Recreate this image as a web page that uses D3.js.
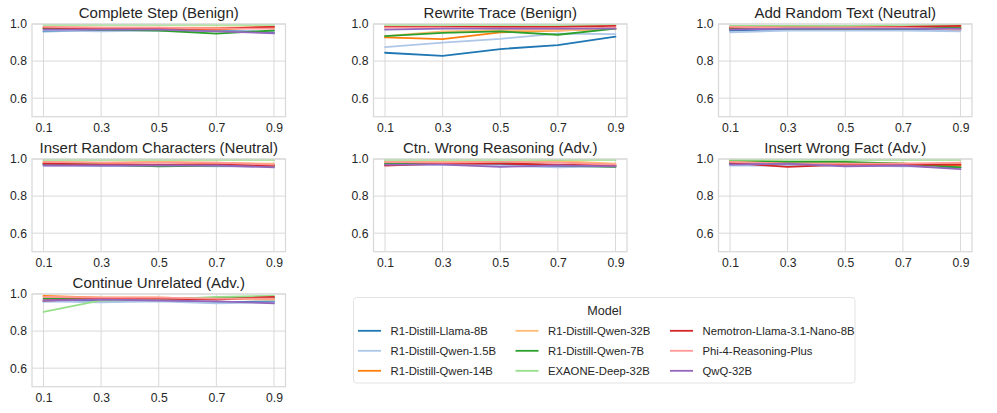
<!DOCTYPE html>
<html>
<head>
<meta charset="utf-8">
<script src="https://cdn.jsdelivr.net/npm/d3@7"></script>
<style>
  html, body { margin: 0; padding: 0; background: #ffffff; }
  svg { display: block; font-family: "Liberation Sans", Arial, sans-serif; }
</style>
</head>
<body>
<svg id="chart" width="997" height="413"></svg>
<script>
// ---- data ----
const xValues = [0.1, 0.3, 0.5, 0.7, 0.9];
const xTickLabels = ["0.1", "0.3", "0.5", "0.7", "0.9"];
const yTicks = [0.6, 0.8, 1.0];
const yTickLabels = ["0.6", "0.8", "1.0"];

const models = [
  "R1-Distill-Llama-8B", "R1-Distill-Qwen-1.5B", "R1-Distill-Qwen-14B",
  "R1-Distill-Qwen-32B", "R1-Distill-Qwen-7B", "EXAONE-Deep-32B",
  "Nemotron-Llama-3.1-Nano-8B", "Phi-4-Reasoning-Plus", "QwQ-32B"
];
const modelColors = ["#1f77b4", "#aec7e8", "#ff7f0e", "#ffbb78", "#2ca02c", "#98df8a", "#d62728", "#ff9896", "#9467bd"];

const panelTitles = [
  "Complete Step (Benign)", "Rewrite Trace (Benign)", "Add Random Text (Neutral)",
  "Insert Random Characters (Neutral)", "Ctn. Wrong Reasoning (Adv.)", "Insert Wrong Fact (Adv.)",
  "Continue Unrelated (Adv.)"
];

// values per panel, per model (in models order), at xValues
const completeStep = [
  [0.960, 0.965, 0.970, 0.965, 0.955],
  [0.965, 0.960, 0.965, 0.960, 0.960],
  [0.980, 0.975, 0.975, 0.970, 0.985],
  [0.985, 0.980, 0.980, 0.980, 0.985],
  [0.975, 0.970, 0.965, 0.948, 0.965],
  [0.995, 0.995, 0.995, 0.995, 0.995],
  [0.980, 0.975, 0.975, 0.975, 0.985],
  [0.985, 0.980, 0.980, 0.975, 0.975],
  [0.970, 0.970, 0.970, 0.960, 0.950]
];
const rewriteTrace = [
  [0.845, 0.828, 0.865, 0.886, 0.932],
  [0.875, 0.900, 0.920, 0.948, 0.945],
  [0.928, 0.918, 0.955, 0.965, 0.975],
  [0.935, 0.960, 0.965, 0.965, 0.975],
  [0.935, 0.952, 0.960, 0.942, 0.975],
  [0.995, 0.995, 0.995, 0.995, 0.995],
  [0.985, 0.985, 0.985, 0.985, 0.990],
  [0.980, 0.980, 0.975, 0.975, 0.980],
  [0.970, 0.975, 0.975, 0.975, 0.975]
];
const addRandomText = [
  [0.965, 0.970, 0.970, 0.970, 0.970],
  [0.955, 0.965, 0.965, 0.965, 0.960],
  [0.980, 0.980, 0.975, 0.980, 0.985],
  [0.985, 0.985, 0.980, 0.985, 0.975],
  [0.975, 0.975, 0.975, 0.975, 0.980],
  [0.990, 0.990, 0.990, 0.995, 0.995],
  [0.980, 0.980, 0.980, 0.985, 0.990],
  [0.985, 0.980, 0.980, 0.980, 0.970],
  [0.970, 0.975, 0.975, 0.975, 0.975]
];
const insertRandomChars = [
  [0.970, 0.965, 0.965, 0.965, 0.960],
  [0.965, 0.965, 0.965, 0.960, 0.960],
  [0.980, 0.975, 0.985, 0.975, 0.970],
  [0.985, 0.980, 0.985, 0.980, 0.975],
  [0.975, 0.970, 0.960, 0.965, 0.965],
  [0.995, 0.995, 0.995, 0.995, 0.995],
  [0.975, 0.970, 0.970, 0.970, 0.965],
  [0.985, 0.980, 0.980, 0.980, 0.970],
  [0.965, 0.965, 0.965, 0.965, 0.955]
];
const ctnWrongReasoning = [
  [0.970, 0.975, 0.970, 0.965, 0.960],
  [0.970, 0.970, 0.965, 0.955, 0.960],
  [0.985, 0.980, 0.985, 0.985, 0.970],
  [0.985, 0.985, 0.980, 0.990, 0.975],
  [0.975, 0.975, 0.980, 0.965, 0.958],
  [0.995, 0.995, 0.995, 0.995, 0.995],
  [0.965, 0.975, 0.975, 0.970, 0.965],
  [0.985, 0.980, 0.985, 0.980, 0.970],
  [0.970, 0.970, 0.958, 0.965, 0.960]
];
const insertWrongFact = [
  [0.975, 0.970, 0.970, 0.965, 0.955],
  [0.965, 0.965, 0.965, 0.960, 0.960],
  [0.985, 0.980, 0.975, 0.975, 0.965],
  [0.990, 0.985, 0.980, 0.975, 0.975],
  [0.993, 0.985, 0.985, 0.975, 0.955],
  [0.995, 0.995, 0.995, 0.995, 0.995],
  [0.980, 0.957, 0.970, 0.970, 0.970],
  [0.985, 0.975, 0.975, 0.975, 0.980],
  [0.970, 0.975, 0.960, 0.965, 0.945]
];
const continueUnrelated = [
  [0.960, 0.965, 0.965, 0.955, 0.960],
  [0.960, 0.955, 0.960, 0.950, 0.955],
  [0.990, 0.980, 0.980, 0.975, 0.975],
  [0.985, 0.980, 0.980, 0.975, 0.970],
  [0.975, 0.975, 0.970, 0.980, 0.980],
  [0.903, 0.965, 0.970, 0.985, 0.990],
  [0.965, 0.975, 0.975, 0.970, 0.985],
  [0.985, 0.980, 0.980, 0.975, 0.975],
  [0.965, 0.970, 0.965, 0.960, 0.950]
];
const panelValues = [completeStep, rewriteTrace, addRandomText, insertRandomChars,
                     ctnWrongReasoning, insertWrongFact, continueUnrelated];

// ---- layout ----
const svg = d3.select("#chart");
const colLeft = [32, 373.5, 718.5];
const colWidth = 253.5;
const rowTop = [24, 159, 294];
const plotH = 92.7;
const gridColor = "#d9d9d9";
const textColor = "#262626";

panelValues.forEach((vals, i) => {
  const col = i % 3, row = Math.floor(i / 3);
  const g = svg.append("g").attr("transform", `translate(${colLeft[col]},${rowTop[row]})`);
  const x = d3.scaleLinear().domain([0.06, 0.94]).range([0, colWidth]);
  const y = d3.scaleLinear().domain([0.5, 1.0]).range([plotH, 0]);

  // grid
  g.selectAll(".gx").data(xValues).enter().append("line")
    .attr("x1", d => x(d)).attr("x2", d => x(d)).attr("y1", 0).attr("y2", plotH)
    .attr("stroke", gridColor).attr("stroke-width", 1);
  g.selectAll(".gy").data(yTicks).enter().append("line")
    .attr("x1", 0).attr("x2", colWidth).attr("y1", d => y(d)).attr("y2", d => y(d))
    .attr("stroke", gridColor).attr("stroke-width", 1);

  // lines
  const line = d3.line().x((d, k) => x(xValues[k])).y(d => y(d));
  vals.forEach((series, m) => {
    g.append("path").datum(series).attr("d", line)
      .attr("fill", "none").attr("stroke", modelColors[m])
      .attr("stroke-width", 1.8).attr("stroke-linejoin", "round").attr("stroke-linecap", "round");
  });

  // frame
  g.append("rect").attr("x", 0).attr("y", 0).attr("width", colWidth).attr("height", plotH)
    .attr("fill", "none").attr("stroke", gridColor).attr("stroke-width", 1.25);

  // axes (tick labels only)
  const xAxis = d3.axisBottom(x).tickValues(xValues)
    .tickFormat((d, k) => xTickLabels[k]).tickSize(0).tickPadding(7);
  const xg = g.append("g").attr("transform", `translate(0,${plotH})`).call(xAxis);
  const yAxis = d3.axisLeft(y).tickValues(yTicks)
    .tickFormat((d, k) => yTickLabels[k]).tickSize(0).tickPadding(5);
  const yg = g.append("g").call(yAxis);
  [xg, yg].forEach(a => {
    a.select(".domain").remove();
    a.selectAll("text").attr("fill", textColor).style("font-size", "12.2px")
      .style("font-family", "'Liberation Sans', Arial, sans-serif");
  });

  // title
  g.append("text").attr("x", colWidth / 2).attr("y", -6.5)
    .attr("text-anchor", "middle").attr("fill", textColor)
    .style("font-size", "15px").text(panelTitles[i]);
});

// ---- legend ----
const lg = svg.append("g").attr("transform", "translate(353.5,297.5)");
lg.append("rect").attr("width", 501.5).attr("height", 85.5).attr("rx", 3)
  .attr("fill", "#ffffff").attr("stroke", "#e3e3e3").attr("stroke-width", 1);
lg.append("text").attr("x", 251).attr("y", 17.5).attr("text-anchor", "middle")
  .attr("fill", textColor).style("font-size", "12.6px").text("Model");
const colX = [4.5, 162, 316.5];
models.forEach((name, m) => {
  const c = Math.floor(m / 3), r = m % 3;
  const yy = 33.3 + r * 20;
  lg.append("line").attr("x1", colX[c]).attr("x2", colX[c] + 23)
    .attr("y1", yy).attr("y2", yy).attr("stroke", modelColors[m]).attr("stroke-width", 1.8);
  lg.append("text").attr("x", colX[c] + 32.5).attr("y", yy).attr("dy", "0.35em")
    .attr("fill", textColor).style("font-size", "11.3px").text(name);
});
</script>
</body>
</html>
